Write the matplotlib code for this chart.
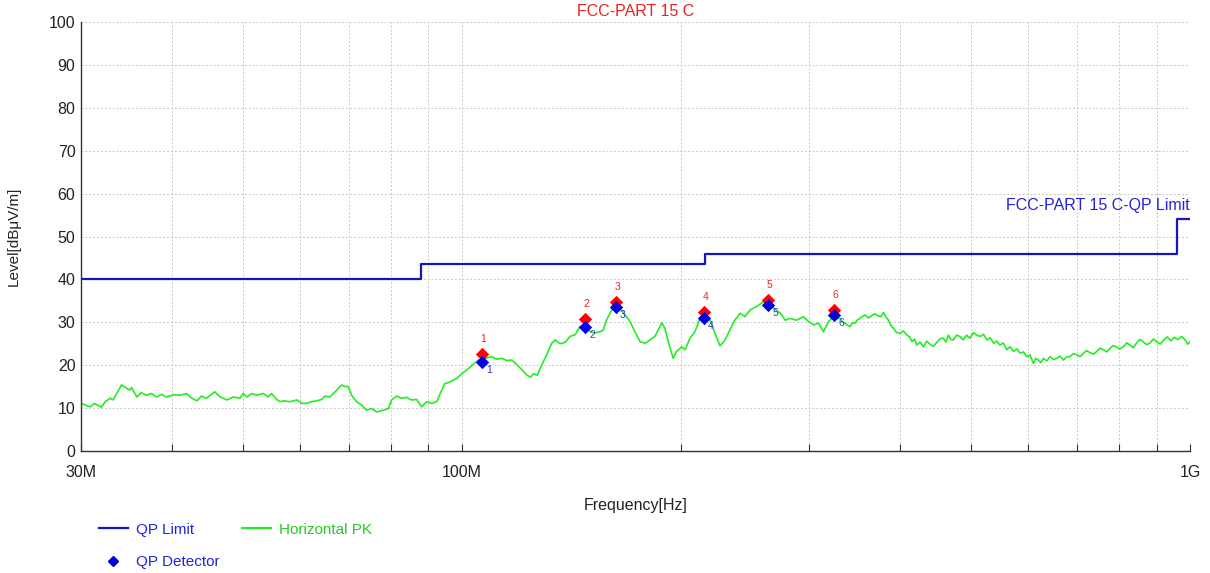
import matplotlib
matplotlib.use("Agg")
import matplotlib.pyplot as plt
from matplotlib.lines import Line2D
from matplotlib.ticker import FixedLocator, NullFormatter
import matplotlib.transforms as mtransforms

plt.rcParams['font.family'] = ['Liberation Sans', 'DejaVu Sans']

# ---------------- data ----------------
title = "FCC-PART 15 C"
limit_label = "FCC-PART 15 C-QP Limit"

# QP limit (MHz, dBuV/m) – step function
limit_freq = [30, 88, 216, 960, 1000]
limit_level = [40, 43.5, 46, 54, 54]

# Horizontal PK trace (MHz, dBuV/m)
trace_freq = [
    30.0, 30.9, 31.3, 32.0, 32.4, 32.9, 33.2, 33.6, 34.1, 34.7, 35.0, 35.2, 35.8, 36.3, 36.9,
    37.5, 38.1, 38.7, 39.3, 40.2, 41.1, 41.9, 42.6, 43.3, 43.9, 44.6, 45.8, 46.6, 47.6, 48.6,
    49.6, 50.1, 50.7, 51.5, 52.3, 53.4, 54.2, 54.8, 55.7,
    56.3, 56.9, 58.1, 59.4, 60.3, 61.2, 62.2, 63.2, 64.2, 64.9, 65.9, 67.0, 67.7, 68.4, 69.1,
    69.8, 70.6, 71.7, 72.9, 74.0, 75.2, 76.4, 78.0, 79.3, 80.1, 81.4, 82.7, 84.0, 85.3, 86.7,
    88.1, 89.5, 91.0, 92.4, 93.4, 94.8, 96.3, 98.4, 100.0,
    101.6, 103.8, 105.4, 107.6, 109.9, 111.7, 113.6, 115.3, 117.2, 119.1, 121.0, 122.9, 124.3,
    125.4, 127.0, 128.8, 130.8, 132.9, 134.3, 136.4, 138.6, 140.8, 143.1, 145.3, 147.7, 150.0,
    152.4, 154.8, 156.4, 158.1, 160.7, 162.4, 165.0, 167.7, 170.2, 172.9, 175.7, 178.5, 181.3,
    184.2,
    188.2, 190.1, 192.1, 195.1, 197.2, 200.5, 202.6, 205.8, 209.0, 212.4, 214.6, 219.3, 222.7,
    226.3, 229.9, 233.4, 237.1, 241.1, 244.9, 248.8, 254.2, 259.6, 263.8, 268.1, 273.9, 278.1,
    282.3, 288.1, 294.5, 299.2, 304.3, 309.0, 313.8, 318.8, 324.0,
    331.0, 333.5, 336.2, 338.5, 341.3, 344.0, 346.8, 349.5, 352.1, 355.0, 357.9, 361.5, 365.2,
    369.0, 373.2, 376.5, 379.4, 382.4, 385.5, 388.5, 391.7, 395.5, 399.8, 404.0, 408.7, 412.0,
    415.3, 418.5, 421.5, 426.0, 430.4, 435.0, 439.5, 444.0, 449.0, 454.0, 458.5, 462.0, 465.9,
    469.5, 473.3, 478.0, 483.2, 488.0, 493.4, 498.5, 504.2, 509.5, 515.0, 520.5, 526.1, 531.5,
    537.4, 543.0, 548.3, 554.0, 560.4, 566.0, 572.4, 578.5, 584.6, 590.5, 596.8, 603.0, 609.4,
    614.0, 619.2, 624.0, 629.2, 636.0, 642.5, 649.5, 656.2, 663.0, 670.0, 677.0, 684.2, 691.5,
    698.9, 706.5, 714.0, 721.5, 729.2, 737.0, 744.7, 752.5, 760.5, 768.5, 776.4, 784.5, 792.8,
    801.5, 809.8, 818.5, 826.9, 835.5, 844.1, 853.0, 862.0, 871.0, 880.4, 890.5, 900.3, 910.0,
    920.3, 930.5, 941.2, 952.0, 962.7, 973.5, 984.9, 992.0, 1000.0,
]
trace_level = [
    11.1, 10.3, 11.1, 10.2, 11.5, 12.3, 11.9, 13.4, 15.4, 14.6, 14.2, 14.8, 12.6, 13.6, 13.0,
    13.4, 12.6, 13.2, 12.6, 13.1, 13.0, 13.4, 12.3, 11.7, 12.8, 12.3, 13.8, 12.6, 11.9, 12.6,
    12.3, 13.4, 12.6, 13.4, 13.0, 13.4, 12.6, 13.4, 12.0,
    11.5, 11.7, 11.5, 11.9, 11.1, 11.1, 11.5, 11.7, 12.0, 12.8, 12.6, 13.8, 14.6, 15.4, 15.0,
    15.1, 13.0, 11.5, 10.7, 9.5, 9.9, 9.1, 9.5, 9.9, 11.9, 12.8, 12.3, 12.5, 11.9, 12.0,
    10.3, 11.5, 11.1, 11.5, 13.4, 15.7, 16.1, 16.9, 18.0,
    18.9, 20.3, 21.2, 21.6, 22.0, 21.4, 21.6, 21.1, 21.2, 20.1, 18.9, 17.7, 17.2,
    18.0, 17.7, 20.1, 22.4, 25.1, 25.9, 25.0, 25.3, 26.7, 27.1, 29.0, 29.4, 27.8,
    27.5, 27.8, 28.2, 30.6, 32.9, 34.1, 33.3, 31.7, 30.2, 27.8, 25.5, 25.1, 25.9,
    26.7,
    29.9, 28.6, 25.5, 21.6, 23.2, 24.3, 23.6, 26.3, 27.8, 30.9, 31.3, 30.5, 27.4,
    24.5, 25.9, 28.2, 30.5, 32.1, 31.3, 32.9, 33.7, 34.8, 34.3, 33.3, 32.1, 30.5,
    30.9, 30.5, 31.3, 30.2, 29.4, 29.8, 27.8, 30.2, 31.3,
    30.8, 30.0, 29.8, 29.3, 29.0, 29.9, 29.8, 30.6, 30.9, 31.4, 31.7, 31.0, 31.5,
    32.0, 31.5, 31.3, 32.3, 31.2, 30.5, 29.2, 28.6, 27.6, 27.4, 28.0, 27.0, 26.6,
    25.5, 26.1, 24.7, 25.4, 24.3, 25.6, 24.9, 24.4, 25.3, 26.2, 26.3, 25.4, 27.0,
    26.0, 25.9, 27.0, 26.7, 25.9, 27.0, 26.3, 27.6, 27.0, 26.7, 27.2, 25.9, 26.4,
    25.1, 25.6, 24.7, 25.2, 23.6, 24.3, 23.2, 23.8, 22.8, 23.1, 22.0, 22.4, 20.4,
    21.6, 21.2, 20.6, 21.6, 21.0, 22.0, 21.3, 21.6, 22.1, 21.2, 21.9, 22.0, 22.7,
    22.4, 22.0, 22.8, 23.4, 22.9, 22.6, 23.2, 24.0, 23.6, 23.1, 23.9, 24.6, 24.2,
    23.8, 24.3, 25.2, 24.7, 24.1, 25.1, 26.0, 25.5, 24.8, 25.1, 26.1, 25.5, 24.9,
    25.9, 26.6, 25.7, 26.5, 26.0, 26.7, 25.9, 24.9, 25.5,
]

# Final measurement points
marker_ids = ["1", "2", "3", "4", "5", "6"]
marker_freq = [106.6, 147.7, 162.8, 215.1, 263.4, 324.6]
peak_level = [22.6, 30.8, 34.7, 32.4, 35.2, 32.9]
qp_level = [20.7, 28.9, 33.6, 31.0, 34.0, 31.7]

x_major = [30, 100, 1000]
x_major_labels = ["30M", "100M", "1G"]
x_minor = [40, 50, 60, 70, 80, 90, 200, 300, 400, 500, 600, 700, 800, 900]
y_ticks = [0, 10, 20, 30, 40, 50, 60, 70, 80, 90, 100]

# ---------------- colors ----------------
limit_color = "#1515C8"
trace_color = "#22EE22"
peak_color = "#FF0000"
qp_color = "#0000E0"
text_blue = "#2222DD"

# ---------------- figure ----------------
fig = plt.figure(figsize=(12.1, 5.73), dpi=100)
ax = fig.add_axes([0.0669, 0.2129, 0.9835 - 0.0669, 0.9616 - 0.2129])

ax.set_xscale("log")
ax.set_xlim(30, 1000)
ax.set_ylim(0, 100)

ax.plot(limit_freq, limit_level, drawstyle="steps-post", color=limit_color, lw=1.6, zorder=3)
ax.plot(trace_freq, trace_level, color=trace_color, lw=1.2, zorder=2)
ax.scatter(marker_freq, peak_level, marker="D", s=46, color=peak_color, zorder=5, linewidths=0)
ax.scatter(marker_freq, qp_level, marker="D", s=46, color=qp_color, zorder=6, linewidths=0)

for mid, f, pk, qp in zip(marker_ids, marker_freq, peak_level, qp_level):
    ax.annotate(mid, (f, pk), xytext=(1, 7), textcoords="offset points",
                ha="center", va="bottom", color="#EE2222", fontsize=7.5, zorder=7)
    ax.annotate(mid, (f, qp), xytext=(3, -2), textcoords="offset points",
                ha="left", va="top", color="#3333DD", fontsize=7.5, zorder=7)

# ticks
ax.xaxis.set_major_locator(FixedLocator(x_major))
ax.set_xticklabels(x_major_labels)
ax.xaxis.set_minor_locator(FixedLocator(x_minor))
ax.xaxis.set_minor_formatter(NullFormatter())
ax.set_yticks(y_ticks)
ax.tick_params(axis="x", which="both", direction="in", length=5, width=0.8, pad=10,
               labelsize=11.5, colors="#333333", labelcolor="#222222")
ax.tick_params(axis="y", length=0, pad=4, labelsize=11.5, labelcolor="#222222")

# grid
ax.grid(True, which="major", axis="both", color="#C8C8C8", ls=(0, (2, 2)), lw=0.7)
ax.grid(True, which="minor", axis="x", color="#C8C8C8", ls=(0, (2, 2)), lw=0.7)
ax.set_axisbelow(True)

for s in ["top", "right"]:
    ax.spines[s].set_visible(False)
for s in ["left", "bottom"]:
    ax.spines[s].set_color("#333333")
    ax.spines[s].set_linewidth(1.0)

ax.set_xlabel("Frequency[Hz]", fontsize=11.5, color="#222222", labelpad=13)
ax.set_ylabel("Level[dBμV/m]", fontsize=11, color="#222222", labelpad=20)
ax.set_title(title, color="#EE2222", fontsize=11.5, pad=4)

trans = mtransforms.blended_transform_factory(ax.transAxes, ax.transData)
ax.text(1.0, 55.5, limit_label, transform=trans, ha="right", va="bottom",
        color=text_blue, fontsize=11.5)

# legend
h_limit = Line2D([], [], color=limit_color, lw=1.6)
h_trace = Line2D([], [], color=trace_color, lw=1.6)
h_qp = Line2D([], [], color=qp_color, marker="D", ls="none", markersize=5)
leg = fig.legend([h_limit, h_qp, h_trace], ["QP Limit", "QP Detector", "Horizontal PK"],
                 loc="upper left", bbox_to_anchor=(0.0818, 0.088), ncol=2,
                 frameon=False, fontsize=11, handlelength=1.9, columnspacing=1.5,
                 labelspacing=1.2, handletextpad=0.5, borderpad=0, borderaxespad=0,
                 labelcolor=[text_blue, text_blue, "#22CC22"])

fig.savefig("out.png", dpi=100)
